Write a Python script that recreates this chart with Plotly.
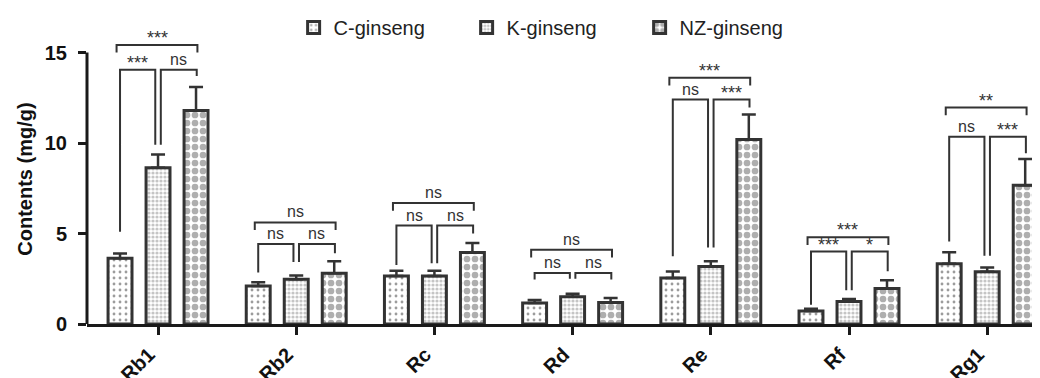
import plotly.graph_objects as go

categories = ["Rb1", "Rb2", "Rc", "Rd", "Re", "Rf", "Rg1"]
series_names = ["C-ginseng", "K-ginseng", "NZ-ginseng"]

c_mean = [3.63, 2.10, 2.65, 1.16, 2.54, 0.72, 3.33]
c_err = [0.27, 0.20, 0.29, 0.17, 0.36, 0.12, 0.63]
k_mean = [8.63, 2.47, 2.65, 1.51, 3.17, 1.25, 2.88]
k_err = [0.74, 0.21, 0.29, 0.16, 0.30, 0.13, 0.24]
nz_mean = [11.79, 2.80, 3.95, 1.19, 10.20, 1.96, 7.67]
nz_err = [1.31, 0.67, 0.52, 0.25, 1.38, 0.46, 1.45]

# significance labels: C vs K, K vs NZ, C vs NZ
sig_ck = ["***", "ns", "ns", "ns", "ns", "***", "ns"]
sig_kn = ["ns", "ns", "ns", "ns", "***", "*", "***"]
sig_cn = ["***", "ns", "ns", "ns", "***", "***", "**"]

# bracket heights (mg/g)
pair_level = [14.05, 4.42, 5.44, 2.82, 12.40, 4.00, 10.35]
top_level = [15.42, 5.61, 6.68, 4.10, 13.60, 4.79, 11.96]
c_leg = [5.10, 2.84, 3.26, 2.46, 3.74, 1.07, 4.56]
k_leg = [9.90, 3.42, 3.35, 2.50, 4.23, 1.86, 3.77]
nz_leg = [13.70, 3.91, 5.00, 2.46, 11.96, 2.91, 9.44]

FONT = "Arial, Liberation Sans, Helvetica, sans-serif"
DARK = "#333333"
xs = list(range(len(categories)))

patterns = [
    dict(shape=".", fgcolor="#3a3a3a", bgcolor="white", size=6, solidity=0.18),
    dict(shape=".", fgcolor="#8c8c8c", bgcolor="white", size=4, solidity=0.5),
    dict(shape=".", fgcolor="#5e5e5e", bgcolor="white", size=8, solidity=0.55),
]
means = [c_mean, k_mean, nz_mean]
errs = [c_err, k_err, nz_err]

fig = go.Figure()
for name, m, e, p in zip(series_names, means, errs, patterns):
    fig.add_trace(go.Bar(
        x=xs, y=m, name=name,
        marker=dict(color="white", pattern=p, line=dict(color=DARK, width=3)),
        error_y=dict(type="data", array=e, arrayminus=[0] * len(e), symmetric=False,
                     color=DARK, thickness=2.5, width=7),
    ))

# bracket geometry
slot = 0.275
bx, by = [], []
annotations = []
drop = 0.42
for i in xs:
    xc, xk, xn = i - slot, i, i + slot
    # C vs K
    l, r = xc, xk - 0.02
    bx += [l, l, r, r, None]
    by += [c_leg[i], pair_level[i], pair_level[i], k_leg[i], None]
    annotations.append((0.5 * (l + r), pair_level[i], sig_ck[i]))
    # K vs NZ
    l, r = xk + 0.02, xn + 0.005
    bx += [l, l, r, r, None]
    by += [k_leg[i], pair_level[i], pair_level[i], nz_leg[i], None]
    annotations.append((0.5 * (l + r), pair_level[i], sig_kn[i]))
    # C vs NZ
    l, r = xc - 0.025, xn + 0.01
    bx += [l, l, r, r, None]
    by += [top_level[i] - drop, top_level[i], top_level[i], top_level[i] - drop, None]
    annotations.append((0.5 * (l + r), top_level[i], sig_cn[i]))

fig.add_trace(go.Scatter(x=bx, y=by, mode="lines", line=dict(color=DARK, width=2),
                         showlegend=False, hoverinfo="skip"))

for ax, ay, txt in annotations:
    star = txt != "ns"
    fig.add_annotation(x=ax, y=ay, text=txt, showarrow=False, xref="x", yref="y",
                       yanchor="bottom", yshift=-5 if star else 0,
                       font=dict(family=FONT, size=18 if star else 16, color=DARK))

# y-axis title
fig.add_annotation(xref="paper", yref="y", x=0, y=7.97, xshift=-62, xanchor="center", yanchor="middle",
                   text="<b>Contents (mg/g)</b>",
                   textangle=-90, showarrow=False, font=dict(family=FONT, size=20, color="#111"))

# y-axis line only up to 15
fig.add_shape(type="line", xref="paper", yref="y", x0=0, x1=0, y0=0, y1=15,
              line=dict(color="#1a1a1a", width=3))

fig.update_layout(
    width=1040, height=378,
    margin=dict(l=79, r=0, t=10, b=52),
    paper_bgcolor="white", plot_bgcolor="white",
    barmode="group", bargap=0.175, bargroupgap=0.37,
    font=dict(family=FONT, color="#111"),
    legend=dict(orientation="h", x=0.215, xanchor="left", y=0.985, yanchor="middle",
                font=dict(family=FONT, size=20, color="#222"), entrywidth=128,
                bgcolor="rgba(0,0,0,0)"),
    xaxis=dict(range=[-0.514, 6.44], tickvals=xs, ticktext=["<b>%s</b>" % c for c in categories],
               tickangle=-45, ticks="outside", ticklen=8, tickwidth=3, tickcolor="#1a1a1a",
               ticklabelshift=-9,
               showline=True, linecolor="#1a1a1a", linewidth=3, showgrid=False, zeroline=False,
               tickfont=dict(family=FONT, size=20, color="#111")),
    yaxis=dict(range=[0, 16.63], tickvals=[0, 5, 10, 15], ticktext=["<b>0</b>", "<b>5</b>", "<b>10</b>", "<b>15</b>"],
               ticks="outside", ticklen=8, tickwidth=3, tickcolor="#1a1a1a", ticklabelstandoff=7,
               showline=False, showgrid=False, zeroline=False,
               tickfont=dict(family=FONT, size=20, color="#111")),
)

fig.write_html("out.html")
